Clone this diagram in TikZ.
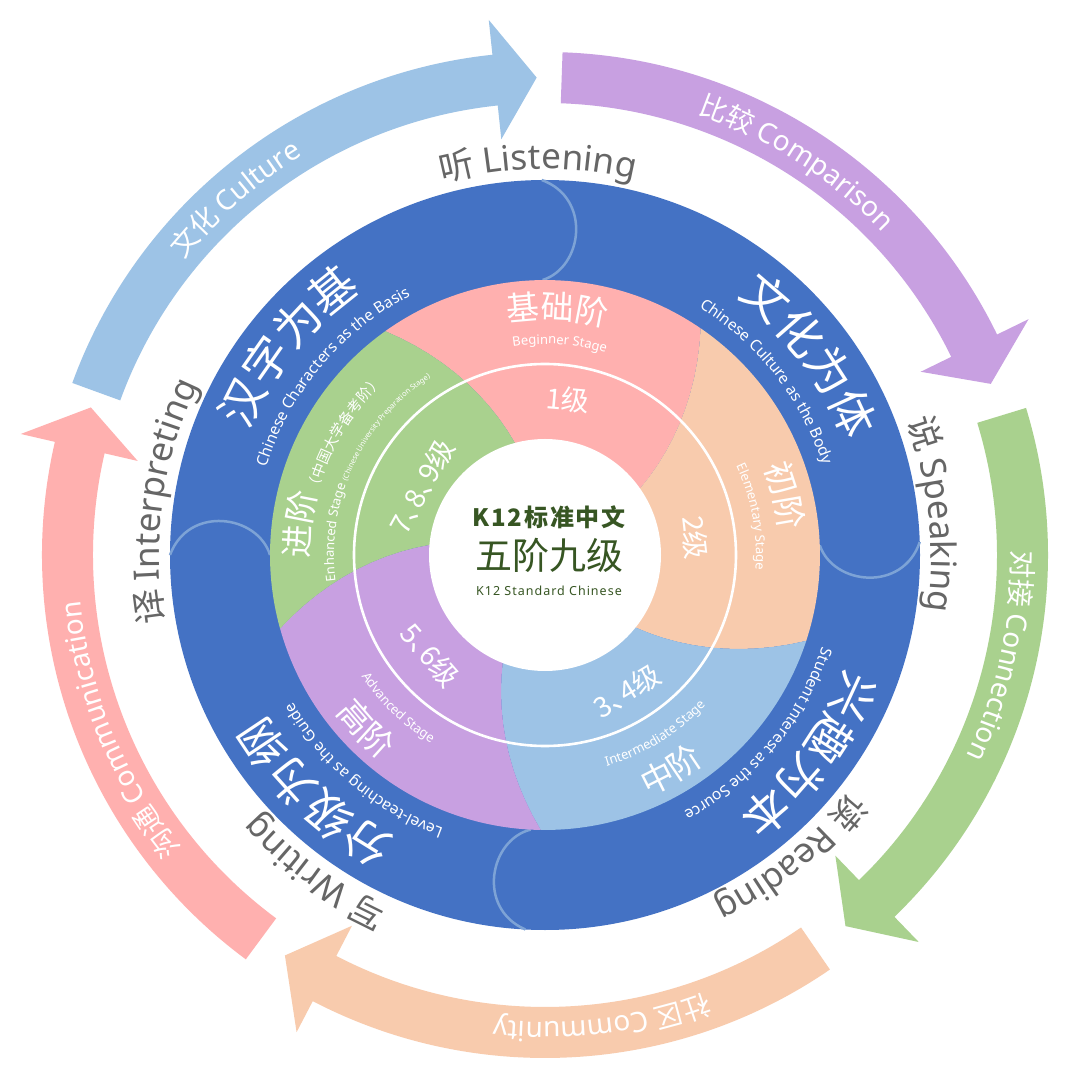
\documentclass[tikz,border=0pt]{standalone}
\usepackage{fontspec}
\setmainfont{Noto Sans}
\newfontfamily\cjk{Noto Sans CJK SC}
\newfontfamily\cjkp{Noto Sans CJK SC}[RawFeature=+palt]
\usetikzlibrary{decorations.text}

\definecolor{ringblue}{HTML}{4472C4}
\definecolor{wavecol}{HTML}{7DA3D6}
\definecolor{pinkc}{HTML}{FFB0AF}
\definecolor{peachc}{HTML}{F8CBAD}
\definecolor{skyc}{HTML}{9DC3E6}
\definecolor{lilac}{HTML}{C8A0E1}
\definecolor{leaf}{HTML}{A9D18E}
\definecolor{darkleaf}{HTML}{375623}
\definecolor{labgray}{HTML}{666666}

\newcommand{\fsz}[1]{\fontsize{#1}{#1}\selectfont}
\newcommand{\graycn}{\cjk\fsz{35}\color{labgray}}
\newcommand{\grayen}{\rmfamily\fsz{35}\color{labgray}}
\newcommand{\arrcn}{\cjk\fsz{28}\color{white}}
\newcommand{\arren}{\rmfamily\fsz{28}\color{white}}
\newcommand{\ringcn}{\cjk\fsz{46}\color{white}}
\newcommand{\ringen}{\rmfamily\fsz{15.5}\color{white}}
\newcommand{\stagecn}{\cjk\fsz{33}\color{white}}
\newcommand{\stageen}{\rmfamily\fsz{13}\color{white}}
\newcommand{\parcn}{\cjk\fsz{14.5}\color{white}}
\newcommand{\paren}{\rmfamily\fsz{7.5}\color{white}}

% text on a circle: radius, middle angle, half span, text
\newcommand{\cwtext}[4]{\path[decorate, decoration={text along path, text align=center, text={#4}}]
  ({#2+#3}:#1) arc[start angle={#2+#3}, end angle={#2-#3}, radius=#1];}
\newcommand{\ccwtext}[4]{\path[decorate, decoration={text along path, text align=center, text={#4}}]
  ({#2-#3}:#1) arc[start angle={#2-#3}, end angle={#2+#3}, radius=#1];}

% curved band arrow: colour, tail angle, head angle, tip angle
\newcommand{\bandarrow}[4]{\fill[#1] ({#2}:452) arc[start angle={#2}, end angle={#3}, radius=452]
  -- ({#3}:418) -- ({#4}:477.5) -- ({#3}:538) -- ({#3}:503)
  arc[start angle={#3}, end angle={#2}, radius=503] -- cycle;}

% stage sector between two swirled borders
\newcommand{\petal}[3]{\fill[#1] ({#2}:116)
  -- plot[domain=116:275, samples=12] ({#2+(\x-116)*0.129}:\x)
  arc[start angle={#2+20.5}, end angle={#3+20.5}, radius=275]
  -- plot[domain=275:116, samples=12] ({#3+(\x-116)*0.129}:\x) -- (0,0) -- cycle;}

\begin{document}
\begin{tikzpicture}[x=1pt, y=1pt,
  lvl/.style={font=\cjkp\fsz{28}, text=white, inner sep=0pt},
  wave/.style={wavecol, line width=2.5}]
\fill[white] (-545,-528) rectangle (535,555);
\useasboundingbox (-545,-528) rectangle (535,555);

% outer arrows
\bandarrow{skyc}{160}{96}{91}
\bandarrow{lilac}{88}{26}{21}
\bandarrow{leaf}{17}{-46}{-51}
\bandarrow{peachc}{-55.5}{-117.5}{-123}
\bandarrow{pinkc}{-126.5}{-193}{-198}

% blue ring
\fill[ringblue] (0,0) circle[radius=375];
\draw[wave] (90.5:375) .. controls (82.5:360) and (82.5:290) .. (90.5:275);
\draw[wave] (2:375) .. controls (-6:360) and (-6:290) .. (2:275);
\draw[wave] (-93:375) .. controls (-101:360) and (-101:290) .. (-93:275);
\draw[wave] (180:375) .. controls (172:360) and (172:290) .. (180:275);

% stages
\petal{pinkc}{105}{35}
\petal{peachc}{35}{-38.7}
\petal{skyc}{-38.7}{-111.4}
\petal{lilac}{-111.4}{-185}
\petal{leaf}{175}{105}
\draw[white, line width=2.6] (0,0) circle[radius=191];
\fill[white] (0,0) circle[radius=116];

% skills
\cwtext{386}{91}{60}{|\graycn|听 |\grayen|Listening}
\cwtext{386}{6}{60}{|\graycn|说 |\grayen|Speaking}
\cwtext{386}{-51}{60}{|\graycn|读 |\grayen|Reading}
\cwtext{386}{-126}{60}{|\graycn|写 |\grayen|Writing}
\cwtext{386}{172}{60}{|\graycn|译 |\grayen|Interpreting}

% arrow labels
\cwtext{467}{131}{50}{|\arrcn|文化 |\arren|Culture}
\cwtext{467}{57.3}{50}{|\arrcn|比较 |\arren|Comparison}
\cwtext{467}{-12.5}{50}{|\arrcn|对接 |\arren|Connection}
\cwtext{467}{-83}{50}{|\arrcn|社区 |\arren|Community}
\cwtext{467}{-157.7}{50}{|\arrcn|沟通 |\arren|Communication}

% ring labels
\cwtext{322}{141}{50}{|\ringcn|汉字为基}
\cwtext{292}{140}{60}{|\ringen|Chinese Characters as the Basis}
\cwtext{322}{37}{50}{|\ringcn|文化为体}
\cwtext{292}{38}{60}{|\ringen|Chinese Culture as the Body}
\cwtext{322}{-37}{50}{|\ringcn|兴趣为本}
\cwtext{292}{-40}{60}{|\ringen|Student Interest as the Source}
\cwtext{322}{-134}{50}{|\ringcn|分级为纲}
\cwtext{292}{-130}{60}{|\ringen|Level-teaching as the Guide}

% stage labels
\cwtext{236}{87}{50}{|\stagecn|基础阶}
\cwtext{211}{86}{50}{|\stageen|Beginner Stage}
\cwtext{236}{13.9}{50}{|\stagecn|初阶}
\cwtext{211}{10.5}{50}{|\stageen|Elementary Stage}
\ccwtext{262}{-59.6}{50}{|\stagecn|中阶}
\ccwtext{220}{-58.4}{50}{|\stageen|Intermediate Stage}
\ccwtext{262}{-135.8}{50}{|\stagecn|高阶}
\ccwtext{220}{-133.9}{50}{|\stageen|Advanced Stage}
\cwtext{236}{157}{60}{|\stagecn|进阶|\parcn|（中国大学备考阶）}
\cwtext{211}{155}{75}{|\stageen|Enhanced Stage |\paren|(Chinese University Preparation Stage)}

% levels
\node[lvl, rotate=-5] (lv1) at (81.6:157) {1级};
\node[lvl, rotate=-83.5] (lv2) at (6.5:151) {2级};
\node[lvl, rotate=31] (lv34) at (-58.9:159) {3、4级};
\node[lvl, rotate=-49] (lv56) at (-139:152) {5、6级};
\node[lvl, rotate=61] (lv789) at (151:141) {7、8、9级};

% centre
\node[font=\cjk\bfseries\fsz{24}\addfontfeature{LetterSpace=8}, text=darkleaf] (k12cn) at (4,38) {K12标准中文};
\node[font=\cjk\fsz{37}, text=darkleaf] (title) at (4,0) {五阶九级};
\node[font=\bfseries\fsz{12.5}\addfontfeature{LetterSpace=8}, text=darkleaf] (k12en) at (4,-36) {K12 Standard Chinese};
\end{tikzpicture}
\end{document}
